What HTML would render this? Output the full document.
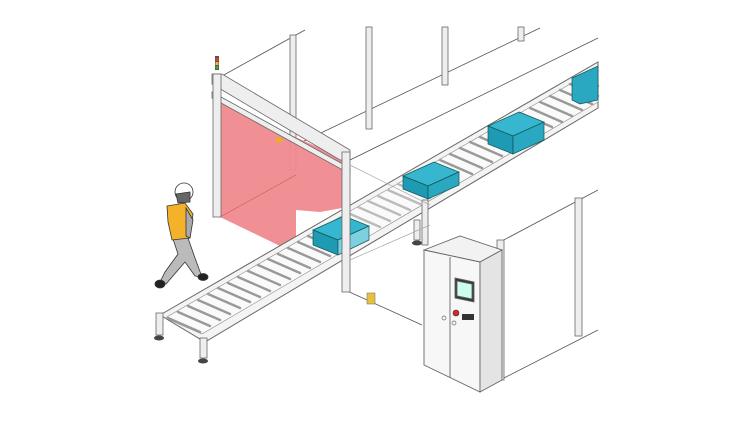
<!DOCTYPE html><html><head><style>body{margin:0;background:#fff}svg{display:block}</style></head><body>
<svg width="752" height="422" viewBox="0 0 752 422" xmlns="http://www.w3.org/2000/svg">
<g stroke="#555" stroke-width="0.8" fill="none">
<!-- back enclosure lines -->
<line x1="222" y1="76" x2="305" y2="30"/>
<line x1="300" y1="143" x2="540" y2="28"/>
<line x1="350" y1="160" x2="598" y2="38"/>
<line x1="500" y1="242" x2="598" y2="190"/>
<line x1="500" y1="380" x2="598" y2="330"/>
<line x1="345" y1="290" x2="422" y2="325"/>
</g>
<!-- back posts -->
<g fill="#eee" stroke="#666" stroke-width="0.8">
<rect x="290" y="35" width="6" height="135"/>
<rect x="366" y="27" width="6" height="102"/>
<rect x="442" y="27" width="6" height="58"/>
<rect x="518" y="27" width="6" height="14"/>
</g>
<!-- red curtain -->
<polygon points="220,103 342,158 342,208 320,212 296,210 296,238 280,246 220,217" fill="#f08a8e" opacity="0.95"/>
<line x1="220" y1="217" x2="296" y2="175" stroke="#c55" stroke-width="0.6"/>
<!-- conveyor -->
<polygon points="160,315 598,62 598,108 205,342" fill="#f4f4f4" stroke="#666" stroke-width="1"/>
<polygon points="165,318 598,68 598,102 202,334" fill="#fafafa" stroke="#888" stroke-width="0.6"/>
<g stroke="#999" stroke-width="2.4" stroke-linecap="round" id="r">
<line x1="168" y1="318" x2="200" y2="332"/><line x1="178" y1="312" x2="210" y2="326"/><line x1="188" y1="306" x2="220" y2="320"/><line x1="198" y1="300" x2="230" y2="314"/><line x1="208" y1="294" x2="240" y2="308"/><line x1="218" y1="288" x2="250" y2="302"/><line x1="228" y1="283" x2="260" y2="297"/><line x1="238" y1="277" x2="270" y2="291"/><line x1="248" y1="271" x2="280" y2="285"/><line x1="258" y1="265" x2="290" y2="279"/><line x1="268" y1="259" x2="300" y2="273"/><line x1="278" y1="254" x2="310" y2="268"/><line x1="288" y1="248" x2="320" y2="262"/><line x1="298" y1="242" x2="330" y2="256"/><line x1="308" y1="236" x2="340" y2="250"/>
</g>
<g stroke="#bbb" stroke-width="2.4" stroke-linecap="round">
<line x1="348" y1="213" x2="380" y2="227"/><line x1="358" y1="207" x2="390" y2="221"/><line x1="368" y1="201" x2="400" y2="215"/><line x1="378" y1="196" x2="410" y2="210"/><line x1="388" y1="190" x2="420" y2="204"/><line x1="398" y1="184" x2="430" y2="198"/>
</g>
<g stroke="#999" stroke-width="2.4" stroke-linecap="round">
<line x1="440" y1="160" x2="472" y2="174"/><line x1="450" y1="154" x2="482" y2="168"/><line x1="460" y1="148" x2="492" y2="162"/><line x1="470" y1="142" x2="502" y2="156"/><line x1="480" y1="137" x2="512" y2="151"/><line x1="490" y1="131" x2="522" y2="145"/><line x1="500" y1="125" x2="532" y2="139"/><line x1="510" y1="119" x2="542" y2="133"/><line x1="520" y1="113" x2="552" y2="127"/><line x1="530" y1="108" x2="562" y2="122"/><line x1="540" y1="102" x2="572" y2="116"/><line x1="550" y1="96" x2="582" y2="110"/><line x1="560" y1="90" x2="592" y2="104"/><line x1="570" y1="84" x2="598" y2="96"/><line x1="580" y1="78" x2="598" y2="86"/>
</g>
<!-- conveyor legs -->
<g fill="#eee" stroke="#666" stroke-width="0.8">
<rect x="156" y="313" width="7" height="22"/><rect x="200" y="338" width="7" height="20"/><rect x="414" y="220" width="6" height="20"/>
</g>
<g fill="#444"><ellipse cx="159" cy="338" rx="5" ry="2.5"/><ellipse cx="203" cy="361" rx="5" ry="2.5"/><ellipse cx="417" cy="243" rx="5" ry="2.5"/></g>
<!-- boxes -->
<g stroke="#155" stroke-width="0.7">
<polygon points="403,176 434,162 459,172 428,186" fill="#36b6cf"/><polygon points="403,176 428,186 428,199 403,189" fill="#1e9ab3"/><polygon points="428,186 459,172 459,185 428,199" fill="#2aa8c1"/>
<polygon points="488,126 519,112 544,122 513,136" fill="#36b6cf"/><polygon points="488,126 513,136 513,154 488,144" fill="#1e9ab3"/><polygon points="513,136 544,122 544,140 513,154" fill="#2aa8c1"/>
<polygon points="572,78 598,66 598,100 580,104 572,100" fill="#2aa8c1"/>
<polygon points="313,230 344,216 369,226 338,240" fill="#36b6cf"/><polygon points="313,230 338,240 338,255 313,245" fill="#1e9ab3"/><polygon points="338,240 369,226 369,240 338,255" fill="#7dd0e0"/>
</g>
<!-- front gate frame -->
<g fill="#eee" stroke="#666" stroke-width="0.8">
<polygon points="212,74 222,74 350,150 350,160 340,160 212,84"/>
<polygon points="212,92 350,168 350,174 212,98"/>
<rect x="213" y="74" width="8" height="143"/>
<rect x="342" y="152" width="8" height="140"/>
<rect x="422" y="200" width="6" height="45"/>
<rect x="497" y="240" width="7" height="140"/>
<rect x="575" y="198" width="7" height="138"/>
</g>
<rect x="215" y="56" width="4" height="14" fill="#555"/><rect x="215.5" y="58" width="3" height="3" fill="#e33"/><rect x="215.5" y="62" width="3" height="3" fill="#eb3"/><rect x="215.5" y="66" width="3" height="3" fill="#3a3"/>
<circle cx="279" cy="140" r="3" fill="#e8b020"/>
<rect x="367" y="293" width="8" height="11" fill="#e8c040" stroke="#666" stroke-width="0.5"/>
<!-- transparent pass-through lines -->
<g stroke="#aaa" stroke-width="0.7" fill="none"><line x1="350" y1="165" x2="430" y2="205"/><line x1="350" y1="260" x2="430" y2="225"/></g>
<!-- cabinet -->
<g stroke="#666" stroke-width="0.9">
<polygon points="424,250 460,236 502,250 480,262" fill="#f2f2f2"/>
<polygon points="424,250 480,262 480,392 424,365" fill="#f7f7f7"/>
<polygon points="480,262 502,250 502,380 480,392" fill="#e4e4e4"/>
<line x1="450" y1="257" x2="450" y2="378"/>
<polygon points="455,278 474,282 474,302 455,298" fill="#333"/>
<polygon points="457,281 472,284 472,299 457,296" fill="#cfe"/>
</g>
<circle cx="456" cy="313" r="3" fill="#d22" stroke="#333" stroke-width="0.6"/>
<rect x="462" y="314" width="12" height="6" fill="#333"/>
<circle cx="444" cy="318" r="2" fill="none" stroke="#666" stroke-width="0.7"/><circle cx="454" cy="323" r="2" fill="none" stroke="#666" stroke-width="0.7"/>
<!-- worker -->
<g stroke="#333" stroke-width="0.8">
<path d="M172 236 L178 254 L165 272 L160 282 L166 284 L185 262 L195 276 L202 277 L195 258 L188 238 Z" fill="#bbb"/>
<ellipse cx="160" cy="284" rx="5" ry="4" fill="#222"/><ellipse cx="203" cy="277" rx="5" ry="3.5" fill="#222"/>
<path d="M167 206 L185 203 L193 214 L190 238 L172 240 L168 222 Z" fill="#f4b22a"/>
<path d="M186 208 L193 220 L190 238 L186 236 Z" fill="#aaa"/>
<circle cx="184" cy="192" r="9" fill="#fff"/>
<path d="M176 194 L190 192 L190 202 L178 203 Z" fill="#666"/>
</g>
</svg></body></html>
